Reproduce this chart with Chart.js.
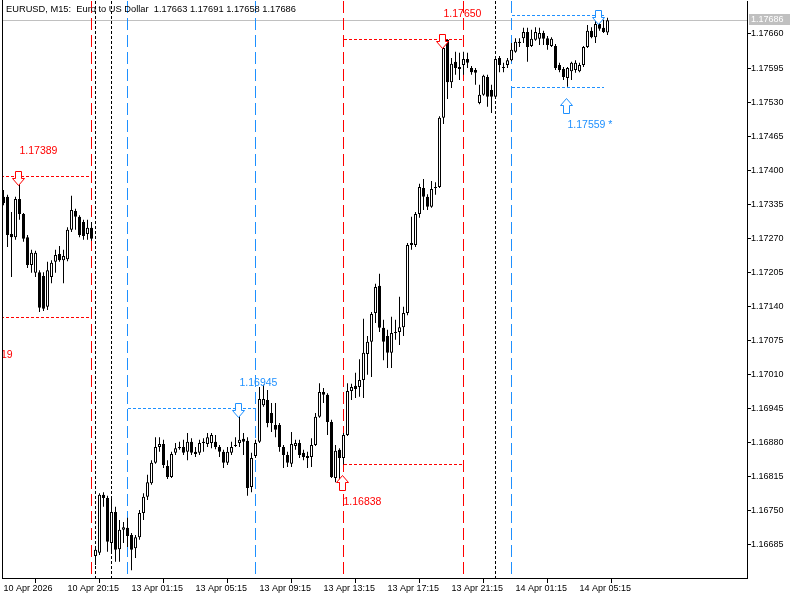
<!DOCTYPE html>
<html>
<head>
<meta charset="utf-8">
<script src="https://cdn.jsdelivr.net/npm/chart.js@4.4.1/dist/chart.umd.min.js"></script>
<style>
html,body{margin:0;padding:0;background:#fff;}
canvas{display:block;}
</style>
</head>
<body>
<canvas id="c" width="800" height="600"></canvas>
<script>
// ---------------- DATA ----------------
const SYMBOL_TITLE = 'EURUSD, M15:  Euro to US Dollar';

const OPEN = [
1.17349,1.17349,1.17278,1.17272,1.17345,1.17316,1.17272,1.17219,1.17204,1.17205,
1.17198,1.17139,1.17196,1.17225,1.17240,1.17228,1.17230,1.17286,1.17322,1.17311,
1.17301,1.17278,1.17290,1.16663,1.16669,1.16780,1.16774,1.16688,1.16747,1.16676,
1.16713,1.16717,1.16703,1.16678,1.16699,1.16745,1.16776,1.16802,1.16841,1.16871,
1.16877,1.16835,1.16814,1.16860,1.16869,1.16871,1.16862,1.16881,1.16862,1.16860,
1.16879,1.16877,1.16879,1.16881,1.16871,1.16862,1.16841,1.16860,1.16873,1.16879,
1.16887,1.16883,1.16795,1.16854,1.16881,1.16951,1.16961,1.16936,1.16913,1.16913,
1.16871,1.16856,1.16839,1.16873,1.16879,1.16860,1.16854,1.16852,1.16875,1.16929,
1.16976,1.16971,1.16919,1.16812,1.16866,1.16850,1.16894,1.16978,1.16988,1.16986,
1.16999,1.17049,1.17072,1.17127,1.17179,1.17099,1.17083,1.17051,1.17091,1.17091,
1.17100,1.17127,1.17257,1.17257,1.17316,1.17366,1.17349,1.17330,1.17366,1.17368,
1.17500,1.17649,1.17568,1.17607,1.17593,1.17601,1.17612,1.17595,1.17591,1.17528,
1.17544,1.17578,1.17553,1.17540,1.17614,1.17597,1.17601,1.17610,1.17626,1.17645,
1.17652,1.17664,1.17637,1.17649,1.17651,1.17662,1.17652,1.17637,1.17637,1.17601,
1.17593,1.17576,1.17589,1.17591,1.17589,1.17601,1.17635,1.17666,1.17654,1.17679,
1.17672,1.17663
];
const HIGH = [
1.17362,1.17353,1.17320,1.17349,1.17389,1.17318,1.17276,1.17248,1.17246,1.17209,
1.17205,1.17225,1.17228,1.17248,1.17255,1.17248,1.17291,1.17351,1.17326,1.17314,
1.17305,1.17305,1.17301,1.16678,1.16783,1.16785,1.16778,1.16776,1.16757,1.16732,
1.16728,1.16736,1.16707,1.16703,1.16751,1.16783,1.16818,1.16846,1.16890,1.16890,
1.16885,1.16846,1.16862,1.16879,1.16881,1.16885,1.16898,1.16888,1.16871,1.16885,
1.16888,1.16898,1.16898,1.16894,1.16875,1.16866,1.16871,1.16881,1.16890,1.16945,
1.16898,1.16890,1.16860,1.16885,1.16986,1.16990,1.16980,1.16955,1.16955,1.16917,
1.16875,1.16862,1.16900,1.16885,1.16885,1.16866,1.16862,1.16888,1.16936,1.16993,
1.16984,1.16974,1.16923,1.16875,1.16869,1.16898,1.16993,1.16992,1.17013,1.17039,
1.17116,1.17083,1.17129,1.17183,1.17202,1.17114,1.17095,1.17120,1.17114,1.17158,
1.17139,1.17261,1.17311,1.17320,1.17374,1.17383,1.17354,1.17379,1.17377,1.17503,
1.17643,1.17650,1.17614,1.17626,1.17624,1.17626,1.17624,1.17599,1.17595,1.17563,
1.17582,1.17582,1.17563,1.17615,1.17618,1.17605,1.17614,1.17643,1.17652,1.17652,
1.17672,1.17672,1.17668,1.17673,1.17672,1.17666,1.17656,1.17654,1.17641,1.17605,
1.17597,1.17597,1.17607,1.17610,1.17605,1.17637,1.17677,1.17673,1.17691,1.17696,
1.17687,1.17691
];
const LOW = [
1.17333,1.17253,1.17196,1.17267,1.17305,1.17263,1.17213,1.17204,1.17196,1.17129,
1.17131,1.17133,1.17184,1.17204,1.17225,1.17184,1.17226,1.17282,1.17286,1.17272,
1.17267,1.17267,1.17265,1.16646,1.16665,1.16757,1.16671,1.16669,1.16652,1.16652,
1.16688,1.16680,1.16636,1.16659,1.16694,1.16732,1.16770,1.16799,1.16839,1.16862,
1.16831,1.16810,1.16812,1.16856,1.16866,1.16856,1.16846,1.16856,1.16852,1.16856,
1.16862,1.16871,1.16869,1.16867,1.16852,1.16831,1.16837,1.16856,1.16871,1.16871,
1.16856,1.16778,1.16785,1.16850,1.16879,1.16948,1.16909,1.16900,1.16890,1.16862,
1.16831,1.16833,1.16833,1.16866,1.16850,1.16846,1.16831,1.16833,1.16873,1.16927,
1.16955,1.16894,1.16812,1.16804,1.16802,1.16838,1.16892,1.16961,1.16965,1.16967,
1.16965,1.17009,1.17005,1.17108,1.17091,1.17037,1.17022,1.17022,1.17076,1.17066,
1.17083,1.17123,1.17248,1.17253,1.17309,1.17324,1.17324,1.17328,1.17353,1.17366,
1.17488,1.17536,1.17557,1.17582,1.17572,1.17582,1.17595,1.17582,1.17563,1.17526,
1.17542,1.17521,1.17509,1.17538,1.17587,1.17587,1.17595,1.17608,1.17624,1.17635,
1.17643,1.17607,1.17635,1.17647,1.17639,1.17639,1.17630,1.17635,1.17591,1.17587,
1.17572,1.17559,1.17572,1.17586,1.17587,1.17597,1.17633,1.17652,1.17643,1.17666,
1.17662,1.17658
];
const CLOSE = [
1.17337,1.17276,1.17272,1.17345,1.17316,1.17269,1.17219,1.17242,1.17242,1.17137,
1.17135,1.17209,1.17223,1.17238,1.17228,1.17236,1.17286,1.17324,1.17311,1.17276,
1.17274,1.17290,1.17269,1.16675,1.16780,1.16774,1.16690,1.16747,1.16675,1.16713,
1.16718,1.16701,1.16675,1.16699,1.16745,1.16776,1.16804,1.16841,1.16871,1.16877,
1.16837,1.16814,1.16858,1.16869,1.16871,1.16860,1.16881,1.16860,1.16858,1.16879,
1.16881,1.16890,1.16894,1.16871,1.16862,1.16841,1.16862,1.16871,1.16875,1.16885,
1.16881,1.16793,1.16850,1.16879,1.16963,1.16963,1.16917,1.16917,1.16904,1.16871,
1.16856,1.16841,1.16877,1.16879,1.16856,1.16852,1.16850,1.16875,1.16929,1.16976,
1.16971,1.16919,1.16814,1.16864,1.16850,1.16894,1.16978,1.16986,1.16982,1.16999,
1.17051,1.17072,1.17125,1.17177,1.17099,1.17072,1.17051,1.17089,1.17089,1.17100,
1.17127,1.17257,1.17261,1.17316,1.17368,1.17349,1.17330,1.17364,1.17368,1.17500,
1.17633,1.17568,1.17603,1.17595,1.17597,1.17612,1.17605,1.17587,1.17586,1.17544,
1.17580,1.17540,1.17540,1.17612,1.17601,1.17595,1.17610,1.17630,1.17645,1.17643,
1.17664,1.17635,1.17651,1.17664,1.17662,1.17651,1.17639,1.17651,1.17595,1.17591,
1.17578,1.17595,1.17605,1.17605,1.17601,1.17635,1.17666,1.17654,1.17679,1.17670,
1.17664,1.17686
];

const TIME_TICK_BARS   = [0,16,32,48,64,80,96,112,128,144];
const TIME_TICK_LABELS = ['10 Apr 2026','10 Apr 20:15','13 Apr 01:15','13 Apr 05:15','13 Apr 09:15',
                          '13 Apr 13:15','13 Apr 17:15','13 Apr 21:15','14 Apr 01:15','14 Apr 05:15'];
const PRICE_TICKS = [1.16685,1.16750,1.16815,1.16880,1.16945,1.17010,1.17075,1.17140,
                     1.17205,1.17270,1.17335,1.17400,1.17465,1.17530,1.17595,1.17660];
const PRICE_MIN = 1.16621, PRICE_MAX = 1.17723;
const BAR_MIN = -0.375, BAR_MAX = 185.875;

// vertical separator lines (bar index, style)
const VLINE_BARS  = [22,23,27,31,63,85,115,123,127];
const VLINE_COLOR = ['#FF0000','#000000','#000000','#1E90FF','#1E90FF','#FF0000','#FF0000','#000000','#1E90FF'];
const VLINE_DOTTED = [false,true,true,false,false,false,false,true,false];

// horizontal level segments
const LEVEL_PRICES = [1.17389,1.17119,1.16945,1.17650,1.16838,1.17696,1.17559];
const LEVEL_FROM   = [-7,-7,31,85,85,127,127];
const LEVEL_TO     = [22,22,63,115,115,150,150];
const LEVEL_COLOR  = ['#FF0000','#FF0000','#1E90FF','#FF0000','#FF0000','#1E90FF','#1E90FF'];

// arrows
const ARROW_BARS   = [4,59,110,149,85,141];
const ARROW_PRICES = [1.17389,1.16945,1.17650,1.17696,1.16838,1.17559];
const ARROW_DIR    = ['down','down','down','down','up','up'];
const ARROW_COLOR  = ['#FF0000','#1E90FF','#FF0000','#1E90FF','#FF0000','#1E90FF'];

// price labels
const LABEL_TEXTS  = ['1.17389','1.17119','1.16945','1.16838','1.17650','1.17559 *'];
const LABEL_BARS   = [4,-7,59,85,110,141];
const LABEL_PRICES = [1.17389,1.17119,1.16945,1.16838,1.17650,1.17559];
const LABEL_SIDE   = ['above','below','above','below','above','below'];
const LABEL_COLOR  = ['#FF0000','#FF0000','#1E90FF','#FF0000','#FF0000','#1E90FF'];

// ---------------- STYLE ----------------
const FONT = "'Liberation Sans', Arial, sans-serif";

const wickData = OPEN.map((o,i)=>({x:i, y:[LOW[i], HIGH[i]]}));
const bodyData = OPEN.map((o,i)=>({x:i, y:[o, CLOSE[i]]}));

function arrowPath(ctx, cx, py, dir){
  ctx.beginPath();
  if (dir === 'down'){
    const t = py - 5;
    ctx.moveTo(cx-3, t); ctx.lineTo(cx+3, t); ctx.lineTo(cx+3, t+7); ctx.lineTo(cx+6, t+7);
    ctx.lineTo(cx, t+14); ctx.lineTo(cx-6, t+7); ctx.lineTo(cx-3, t+7); ctx.closePath();
  } else {
    const t = py + 11;
    ctx.moveTo(cx, t); ctx.lineTo(cx+6, t+7); ctx.lineTo(cx+3, t+7); ctx.lineTo(cx+3, t+15);
    ctx.lineTo(cx-3, t+15); ctx.lineTo(cx-3, t+7); ctx.lineTo(cx-6, t+7); ctx.closePath();
  }
}

function clipArea(ctx, a){
  ctx.beginPath(); ctx.rect(a.left, a.top, a.right-a.left, a.bottom-a.top); ctx.clip();
}

const overlay = {
  id: 'overlay',
  beforeDatasetsDraw(chart){
    const ctx = chart.ctx, a = chart.chartArea, xs = chart.scales.x, ys = chart.scales.y;
    ctx.save();
    clipArea(ctx, a);
    // current price line
    const last = CLOSE.length-1;
    const cy = Math.round(ys.getPixelForValue(CLOSE[last]));
    ctx.fillStyle = '#C0C0C0';
    ctx.fillRect(a.left, cy, a.right-a.left, 1);
    // levels (dashed 3/2)
    for (let k = 0; k < LEVEL_PRICES.length; k++){
      const py = Math.round(ys.getPixelForValue(LEVEL_PRICES[k]));
      const x1 = Math.round(xs.getPixelForValue(LEVEL_FROM[k])), x2 = Math.round(xs.getPixelForValue(LEVEL_TO[k]));
      ctx.fillStyle = LEVEL_COLOR[k];
      for (let x = x1; x < x2; x += 5) ctx.fillRect(x, py, Math.min(3, x2 - x), 1);
    }
    // vertical lines
    for (let k = 0; k < VLINE_BARS.length; k++){
      const px = Math.floor(xs.getPixelForValue(VLINE_BARS[k]));
      const on = VLINE_DOTTED[k] ? 3 : 12, off = VLINE_DOTTED[k] ? 2 : 5;
      ctx.fillStyle = VLINE_COLOR[k];
      for (let y = Math.floor(a.top); y < a.bottom; y += on + off) ctx.fillRect(px, y, 1, Math.min(on, a.bottom - y));
    }
    ctx.restore();
  },
  afterDatasetsDraw(chart){
    const ctx = chart.ctx, a = chart.chartArea, xs = chart.scales.x, ys = chart.scales.y;
    ctx.save();
    clipArea(ctx, a);
    ctx.lineWidth = 1;
    ctx.setLineDash([]);
    for (let k = 0; k < ARROW_BARS.length; k++){
      const cx = Math.round(xs.getPixelForValue(ARROW_BARS[k])) - 1.5;
      const py = Math.round(ys.getPixelForValue(ARROW_PRICES[k])) + 0.5;
      arrowPath(ctx, cx, py, ARROW_DIR[k]);
      ctx.fillStyle = '#FFFFFF'; ctx.fill();
      ctx.strokeStyle = ARROW_COLOR[k]; ctx.stroke();
    }
    ctx.font = '10.5px ' + FONT;
    ctx.textAlign = 'left'; ctx.textBaseline = 'middle';
    for (let k = 0; k < LABEL_TEXTS.length; k++){
      const px = xs.getPixelForValue(LABEL_BARS[k]);
      const py = ys.getPixelForValue(LABEL_PRICES[k]) + (LABEL_SIDE[k] === 'above' ? -25 : 38);
      ctx.fillStyle = LABEL_COLOR[k];
      ctx.fillText(LABEL_TEXTS[k], px, py);
    }
    ctx.restore();
  },
  afterDraw(chart){
    const ctx = chart.ctx, a = chart.chartArea, ys = chart.scales.y;
    ctx.save();
    // left frame line
    ctx.fillStyle = '#000';
    ctx.fillRect(a.left, 0, 1, a.bottom);
    // title
    const last = CLOSE.length-1;
    const title = SYMBOL_TITLE + '  ' + [OPEN[last],HIGH[last],LOW[last],CLOSE[last]].map(v=>v.toFixed(5)).join(' ');
    ctx.font = '9.3px ' + FONT; ctx.fillStyle = '#000';
    ctx.textAlign = 'left'; ctx.textBaseline = 'middle';
    ctx.fillText(title, 6, 9);
    // current price box
    const cy = Math.round(ys.getPixelForValue(CLOSE[last]));
    ctx.fillStyle = '#C0C0C0';
    ctx.fillRect(a.right+2, cy-6, 41, 11);
    ctx.fillStyle = '#FFFFFF'; ctx.font = '9px ' + FONT;
    ctx.fillText(CLOSE[last].toFixed(5), a.right+4, cy);
    ctx.restore();
  }
};

Chart.defaults.font.family = FONT;
Chart.defaults.font.size = 9;
Chart.defaults.color = '#000';

new Chart(document.getElementById('c'), {
  type: 'bar',
  data: {
    datasets: [
      { label:'body', data: bodyData, order: 0, grouped: false, barThickness: 3,
        borderWidth: 1, borderColor: '#000', borderSkipped: false, inflateAmount: 0,
        backgroundColor: ctx => (CLOSE[ctx.dataIndex] >= OPEN[ctx.dataIndex] ? '#FFFFFF' : '#000000') },
      { label:'wick', data: wickData, order: 1, grouped: false, barThickness: 1,
        borderWidth: 0, backgroundColor: '#000', inflateAmount: 0 }
    ]
  },
  options: {
    responsive: false,
    animation: false,
    devicePixelRatio: 1,
    events: [],
    layout: { padding: { left: 2, top: 1, right: 0, bottom: 0 } },
    plugins: { legend: { display: false }, tooltip: { enabled: false }, title: { display: false } },
    scales: {
      x: {
        type: 'linear', min: BAR_MIN, max: BAR_MAX, offset: false,
        grid: { drawOnChartArea: false, drawTicks: true, tickLength: 5, color: '#000' },
        border: { display: true, color: '#000', width: 1 },
        ticks: { autoSkip: false, maxRotation: 0, minRotation: 0, align: 'start', padding: 0,
                 font: { size: 9 }, color: '#000',
                 callback: (v, i) => TIME_TICK_LABELS[i] },
        afterBuildTicks: s => { s.ticks = TIME_TICK_BARS.map(v => ({ value: v })); },
        afterFit: s => { s.height = 22; s.paddingLeft = 0; s.paddingRight = 0; }
      },
      y: {
        type: 'linear', position: 'right', min: PRICE_MIN, max: PRICE_MAX,
        grid: { drawOnChartArea: false, drawTicks: true, tickLength: 4, color: '#000' },
        border: { display: true, color: '#000', width: 1 },
        ticks: { autoSkip: false, padding: 0, font: { size: 9 }, color: '#000',
                 callback: v => Number(v).toFixed(5) },
        afterBuildTicks: s => { s.ticks = PRICE_TICKS.map(v => ({ value: v })); },
        afterFit: s => { s.width = 53; s.paddingTop = 0; s.paddingBottom = 0; }
      }
    }
  },
  plugins: [overlay]
});
</script>
</body>
</html>
